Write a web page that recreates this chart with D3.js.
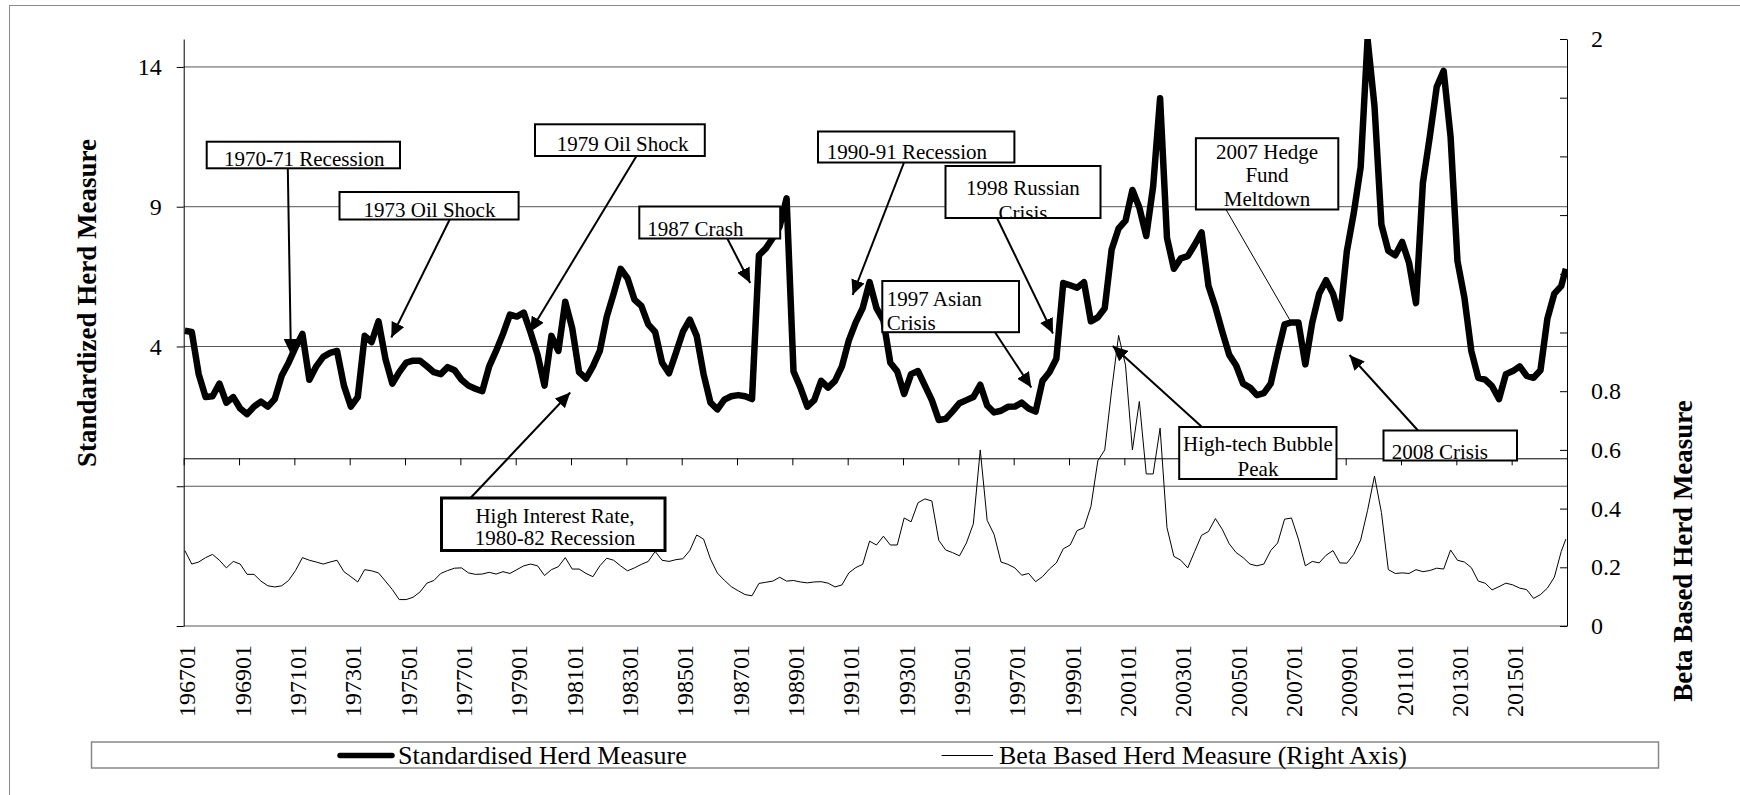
<!DOCTYPE html>
<html>
<head>
<meta charset="utf-8">
<script src="https://cdn.jsdelivr.net/npm/d3@7"></script>
<style>
  body { margin: 0; background: #fff; }
  svg { display: block; font-family: "Liberation Serif", "Times New Roman", serif; }
</style>
</head>
<body>
<script>

// Size of the whole picture
var width = 1740,
    height = 795;

// monthly categories 196701 .. 201612
var periods = [];
d3.range(1967, 2017).forEach(function(y) {
  for (var m = 1; m <= 12; m++) periods.push(y + (m < 10 ? "0" : "") + m);
});

// values (plus the last month)
var sampleDates = periods.filter(function(p, i) { return i % 3 == 0; }).concat(["201612"]);

var tickLabels = ["196701","196901","197101","197301","197501","197701","197901","198101",
  "198301","198501","198701","198901","199101","199301","199501","199701","199901",
  "200101","200301","200501","200701","200901","201101","201301","201501"];

var leftTicks = [14, 9, 4, -1, -6];
var rightTicks = [0, 0.2, 0.4, 0.6, 0.8, 1, 1.2, 1.4, 1.6, 1.8, 2];
var rightShown = [0, 0.2, 0.4, 0.6, 0.8, 2];

// Standardised Herd Measure (left axis)
var herd = [
  4.56, 4.52, 3.01, 2.19, 2.22, 2.67, 1.99, 2.19, 1.78, 1.58,
  1.85, 2.03, 1.85, 2.12, 2.95, 3.42, 3.97, 4.45, 2.81, 3.29,
  3.63, 3.77, 3.84, 2.60, 1.85, 2.19, 4.38, 4.16, 4.90, 3.56,
  2.67, 3.08, 3.42, 3.49, 3.49, 3.29, 3.08, 3.01, 3.26, 3.15,
  2.81, 2.60, 2.49, 2.40, 3.29, 3.84, 4.45, 5.14, 5.07, 5.21,
  4.49, 3.70, 2.60, 4.38, 3.84, 5.60, 4.66, 3.08, 2.85, 3.29,
  3.84, 5.07, 5.89, 6.78, 6.44, 5.68, 5.45, 4.79, 4.52, 3.42,
  3.04, 3.77, 4.52, 4.96, 4.38, 3.01, 1.99, 1.75, 2.10, 2.22,
  2.26, 2.22, 2.12, 7.26, 7.51, 7.88, 8.29, 9.30, 3.11, 2.53,
  1.85, 2.08, 2.77, 2.53, 2.77, 3.29, 4.22, 4.86, 5.37, 6.30,
  5.37, 4.93, 3.42, 3.11, 2.30, 3.01, 3.12, 2.60, 2.08, 1.37,
  1.41, 1.68, 1.97, 2.08, 2.19, 2.63, 1.89, 1.64, 1.70, 1.84,
  1.85, 1.99, 1.78, 1.67, 2.77, 3.08, 3.56, 6.27, 6.19, 6.10,
  6.30, 4.90, 5.04, 5.37, 7.47, 8.22, 8.50, 9.60, 8.97, 7.95,
  9.73, 12.88, 7.88, 6.78, 7.15, 7.23, 7.64, 8.08, 6.16, 5.41,
  4.52, 3.70, 3.32, 2.67, 2.53, 2.26, 2.33, 2.67, 3.77, 4.79,
  4.86, 4.86, 3.36, 4.86, 5.89, 6.37, 5.89, 5.00, 7.40, 8.77,
  10.41, 15.00, 12.60, 8.36, 7.42, 7.26, 7.74, 6.99, 5.55, 9.86,
  11.51, 13.29, 13.86, 11.51, 7.05, 5.75, 3.84, 2.88, 2.81, 2.58,
  2.12, 3.01, 3.12, 3.29, 2.95, 2.88, 3.15, 5.00, 5.89, 6.16,
  6.78
];

// Beta Based Herd Measure (right axis)
var beta = [
  0.257, 0.211, 0.218, 0.233, 0.244, 0.224, 0.198, 0.220, 0.211, 0.176,
  0.176, 0.153, 0.137, 0.133, 0.137, 0.155, 0.189, 0.233, 0.224, 0.218,
  0.211, 0.218, 0.224, 0.185, 0.168, 0.150, 0.192, 0.188, 0.181, 0.153,
  0.124, 0.090, 0.090, 0.098, 0.116, 0.146, 0.155, 0.179, 0.189, 0.197,
  0.198, 0.181, 0.176, 0.177, 0.183, 0.177, 0.185, 0.179, 0.192, 0.205,
  0.211, 0.205, 0.172, 0.192, 0.202, 0.233, 0.194, 0.194, 0.179, 0.168,
  0.205, 0.231, 0.224, 0.205, 0.188, 0.198, 0.210, 0.220, 0.254, 0.224,
  0.220, 0.226, 0.229, 0.257, 0.310, 0.296, 0.228, 0.180, 0.156, 0.134,
  0.120, 0.107, 0.103, 0.145, 0.149, 0.153, 0.166, 0.153, 0.155, 0.150,
  0.147, 0.150, 0.151, 0.146, 0.133, 0.140, 0.181, 0.199, 0.210, 0.289,
  0.276, 0.306, 0.276, 0.276, 0.368, 0.355, 0.420, 0.433, 0.426, 0.292,
  0.259, 0.250, 0.239, 0.283, 0.348, 0.600, 0.360, 0.312, 0.218, 0.210,
  0.198, 0.173, 0.179, 0.151, 0.168, 0.194, 0.215, 0.263, 0.276, 0.325,
  0.335, 0.407, 0.563, 0.600, 0.804, 0.990, 0.889, 0.600, 0.765, 0.518,
  0.518, 0.674, 0.335, 0.237, 0.224, 0.198, 0.254, 0.309, 0.322, 0.366,
  0.329, 0.280, 0.250, 0.233, 0.211, 0.205, 0.211, 0.257, 0.283, 0.364,
  0.368, 0.296, 0.205, 0.220, 0.215, 0.241, 0.257, 0.215, 0.214, 0.244,
  0.293, 0.394, 0.511, 0.387, 0.192, 0.179, 0.181, 0.179, 0.192, 0.185,
  0.189, 0.197, 0.194, 0.259, 0.224, 0.218, 0.199, 0.153, 0.146, 0.123,
  0.134, 0.146, 0.140, 0.129, 0.124, 0.094, 0.107, 0.129, 0.166, 0.254,
  0.296
];

// text boxes and arrows laid over the chart (pixel positions)
var notes = [
  { lines: ["1970-71 Recession"], box: [206.7, 141.7, 400, 168.3], tx: 224, ty: [166.3], anchor: "start",
    from: [287.8, 168.3], to: [290.9, 354] },
  { lines: ["1973 Oil Shock"], box: [339.5, 192, 518.6, 219.5], tx: 363.6, ty: [216.5], anchor: "start",
    from: [449.7, 219.5], to: [391.3, 337.5] },
  { lines: ["1979 Oil Shock"], box: [535, 124.3, 704.8, 156], tx: 556.7, ty: [150.5], anchor: "start",
    from: [636.5, 156], to: [530, 332] },
  { lines: ["1987 Crash"], box: [639.3, 206.5, 780.2, 238.5], tx: 647.3, ty: [235.8], anchor: "start",
    from: [727.3, 238.5], to: [750.2, 283] },
  { lines: ["1990-91 Recession"], box: [818, 131.5, 1014.4, 162.5], tx: 826.7, ty: [159.3], anchor: "start",
    from: [904, 162.5], to: [852.6, 295] },
  { lines: ["1998 Russian", "Crisis"], box: [945.5, 166, 1100.5, 218], tx: 1023, ty: [194.7, 219.7], anchor: "middle",
    from: [997, 218], to: [1053, 333.5] },
  { lines: ["1997 Asian", "Crisis"], box: [882.3, 281, 1019, 332.2], tx: 886.7, ty: [306, 330], anchor: "start",
    from: [995, 332.2], to: [1031.3, 387.5] },
  { lines: ["2007 Hedge", "Fund", "Meltdown"], box: [1195.9, 138.2, 1338.3, 209.5], tx: 1267, ty: [158.5, 181.7, 206.3], anchor: "middle",
    from: [1226, 209.5], to: [1291, 322], plain: true },
  { lines: ["High-tech Bubble", "Peak"], box: [1179.2, 427, 1336.5, 479], tx: 1258, ty: [451.4, 476.4], anchor: "middle",
    from: [1202, 427], to: [1112.7, 346] },
  { lines: ["2008 Crisis"], box: [1383.5, 430.5, 1517, 460.5], tx: 1391.7, ty: [458.5], anchor: "start",
    from: [1418, 430.5], to: [1349.5, 355] },
  { lines: ["High Interest Rate,", "1980-82 Recession"], box: [441.5, 498, 665, 550.5], tx: 555, ty: [523.4, 545], anchor: "middle",
    from: [470.5, 498], to: [570.2, 392.5], heavy: true }
];

var plot = { left: 183.7, right: 1567, top: 39, bottom: 626 };

var x = d3.scaleBand().domain(periods).range([plot.left, plot.right]);
function xc(p) { return x(p) + x.bandwidth() / 2; }
var months = d3.scaleLinear().domain([0, periods.length]).range([plot.left, plot.right]);
var yL = d3.scaleLinear().domain([-6, 15]).range([plot.bottom, plot.top]);
var yR = d3.scaleLinear().domain([0, 2]).range([plot.bottom, plot.top]);

var svg = d3.select("body").append("svg")
    .attr("width", width)
    .attr("height", height);

svg.append("rect").attr("width", width).attr("height", height).attr("fill", "#fff");

// outer chart frame (right and bottom edges fall outside the picture)
svg.append("rect")
    .attr("x", 9.5).attr("y", 5.5)
    .attr("width", 1800).attr("height", 900)
    .attr("fill", "none").attr("stroke", "#8c8c8c");

var defs = svg.append("defs");
defs.append("clipPath").attr("id", "plot-clip")
  .append("rect")
    .attr("x", plot.left).attr("y", plot.top)
    .attr("width", plot.right - plot.left).attr("height", plot.bottom - plot.top);

defs.append("marker")
    .attr("id", "head")
    .attr("markerUnits", "userSpaceOnUse")
    .attr("markerWidth", 16).attr("markerHeight", 14)
    .attr("refX", 15).attr("refY", 7)
    .attr("orient", "auto")
  .append("path")
    .attr("d", "M0,0L15,7L0,14Z")
    .attr("fill", "#000");

// horizontal gridlines
svg.append("g")
  .selectAll("line")
  .data(leftTicks)
  .enter().append("line")
    .attr("x1", plot.left).attr("x2", plot.right)
    .attr("y1", function(d) { return yL(d); })
    .attr("y2", function(d) { return yL(d); })
    .attr("stroke", "#555")
    .attr("stroke-width", 1);

// left axis, only the positive labels are shown
var leftAxis = svg.append("g")
    .attr("transform", "translate(" + plot.left + ",0)")
    .call(d3.axisLeft(yL).tickValues(leftTicks).tickSize(7).tickSizeOuter(0).tickPadding(15)
      .tickFormat(function(d) { return d > 0 ? d : ""; }));

// right axis, ticks point into the plot
var rightAxis = svg.append("g")
    .attr("transform", "translate(" + plot.right + ",0)")
    .call(d3.axisRight(yR).tickValues(rightTicks).tickSize(-7).tickSizeOuter(0).tickPadding(24)
      .tickFormat(function(d) { return rightShown.indexOf(d) >= 0 ? d3.format("~g")(d) : ""; }));

[leftAxis, rightAxis].forEach(function(a) {
  a.attr("font-family", null).attr("font-size", 24);
  a.selectAll("path, line").attr("stroke", "#000");
  a.selectAll("text").attr("fill", "#000");
});

// category axis crossing at zero, tick every two years
var xAxis = svg.append("g")
    .attr("transform", "translate(0," + yL(0) + ")")
    .call(d3.axisBottom(months).tickValues(d3.range(0, periods.length + 1, 24))
      .tickSize(7).tickSizeOuter(0).tickFormat(""));
xAxis.selectAll("path, line").attr("stroke", "#000");

svg.append("g")
  .selectAll("text")
  .data(tickLabels)
  .enter().append("text")
    .attr("transform", function(d) { return "translate(" + (xc(d) + 2) + ",645) rotate(-90)"; })
    .attr("text-anchor", "end")
    .attr("dy", "0.35em")
    .attr("font-size", 24)
    .text(function(d) { return d; });

// the two series
var lines = svg.append("g").attr("clip-path", "url(#plot-clip)");

lines.append("path")
    .datum(herd)
    .attr("d", d3.line()
      .x(function(d, i) { return xc(sampleDates[i]); })
      .y(function(d) { return yL(d); }))
    .attr("fill", "none")
    .attr("stroke", "#000")
    .attr("stroke-width", 6.5)
    .attr("stroke-linejoin", "round");

lines.append("path")
    .datum(beta)
    .attr("d", d3.line()
      .x(function(d, i) { return xc(sampleDates[i]); })
      .y(function(d) { return yR(d); }))
    .attr("fill", "none")
    .attr("stroke", "#000")
    .attr("stroke-width", 1);

// axis titles
svg.append("text")
    .attr("transform", "translate(87,303) rotate(-90)")
    .attr("text-anchor", "middle")
    .attr("dy", "0.35em")
    .attr("font-size", 27)
    .attr("font-weight", "bold")
    .text("Standardized Herd Measure");

svg.append("text")
    .attr("transform", "translate(1683,551) rotate(-90)")
    .attr("text-anchor", "middle")
    .attr("dy", "0.35em")
    .attr("font-size", 27)
    .attr("font-weight", "bold")
    .text("Beta Based Herd Measure");

// annotations: arrow first, then the box on top of it
var note = svg.append("g").selectAll("g")
    .data(notes)
    .enter().append("g");

note.append("line")
    .attr("x1", function(d) { return d.from[0]; })
    .attr("y1", function(d) { return d.from[1]; })
    .attr("x2", function(d) { return d.to[0]; })
    .attr("y2", function(d) { return d.to[1]; })
    .attr("stroke", "#000")
    .attr("stroke-width", function(d) { return d.plain ? 1 : 2; })
    .attr("marker-end", function(d) { return d.plain ? null : "url(#head)"; });

note.each(function(d, i) {
  defs.append("clipPath").attr("id", "note-clip-" + i)
    .append("rect")
      .attr("x", d.box[0]).attr("y", d.box[1])
      .attr("width", d.box[2] - d.box[0]).attr("height", d.box[3] - d.box[1]);
});

note.append("rect")
    .attr("x", function(d) { return d.box[0]; })
    .attr("y", function(d) { return d.box[1]; })
    .attr("width", function(d) { return d.box[2] - d.box[0]; })
    .attr("height", function(d) { return d.box[3] - d.box[1]; })
    .attr("fill", "#fff");

note.append("g")
    .attr("clip-path", function(d, i) { return "url(#note-clip-" + i + ")"; })
  .selectAll("text")
  .data(function(d) { return d.lines.map(function(t, j) { return { t: t, x: d.tx, y: d.ty[j], a: d.anchor }; }); })
  .enter().append("text")
    .attr("x", function(d) { return d.x; })
    .attr("y", function(d) { return d.y; })
    .attr("text-anchor", function(d) { return d.a; })
    .attr("font-size", 21)
    .text(function(d) { return d.t; });

note.append("rect")
    .attr("x", function(d) { return d.box[0]; })
    .attr("y", function(d) { return d.box[1]; })
    .attr("width", function(d) { return d.box[2] - d.box[0]; })
    .attr("height", function(d) { return d.box[3] - d.box[1]; })
    .attr("fill", "none")
    .attr("stroke", "#000")
    .attr("stroke-width", function(d) { return d.heavy ? 3 : 2; });

// legend
var legend = svg.append("g");
legend.append("rect")
    .attr("x", 91.5).attr("y", 742)
    .attr("width", 1567).attr("height", 26)
    .attr("fill", "#fff")
    .attr("stroke", "#888")
    .attr("stroke-width", 1.5);

legend.append("line")
    .attr("x1", 340).attr("x2", 392).attr("y1", 755.5).attr("y2", 755.5)
    .attr("stroke", "#000").attr("stroke-width", 5.5).attr("stroke-linecap", "round");
legend.append("text")
    .attr("x", 398).attr("y", 764)
    .attr("font-size", 26)
    .text("Standardised Herd Measure");

legend.append("line")
    .attr("x1", 941.6).attr("x2", 993).attr("y1", 755.5).attr("y2", 755.5)
    .attr("stroke", "#000").attr("stroke-width", 1);
legend.append("text")
    .attr("x", 999).attr("y", 764)
    .attr("font-size", 26)
    .text("Beta Based Herd Measure (Right Axis)");

</script>
</body>
</html>
